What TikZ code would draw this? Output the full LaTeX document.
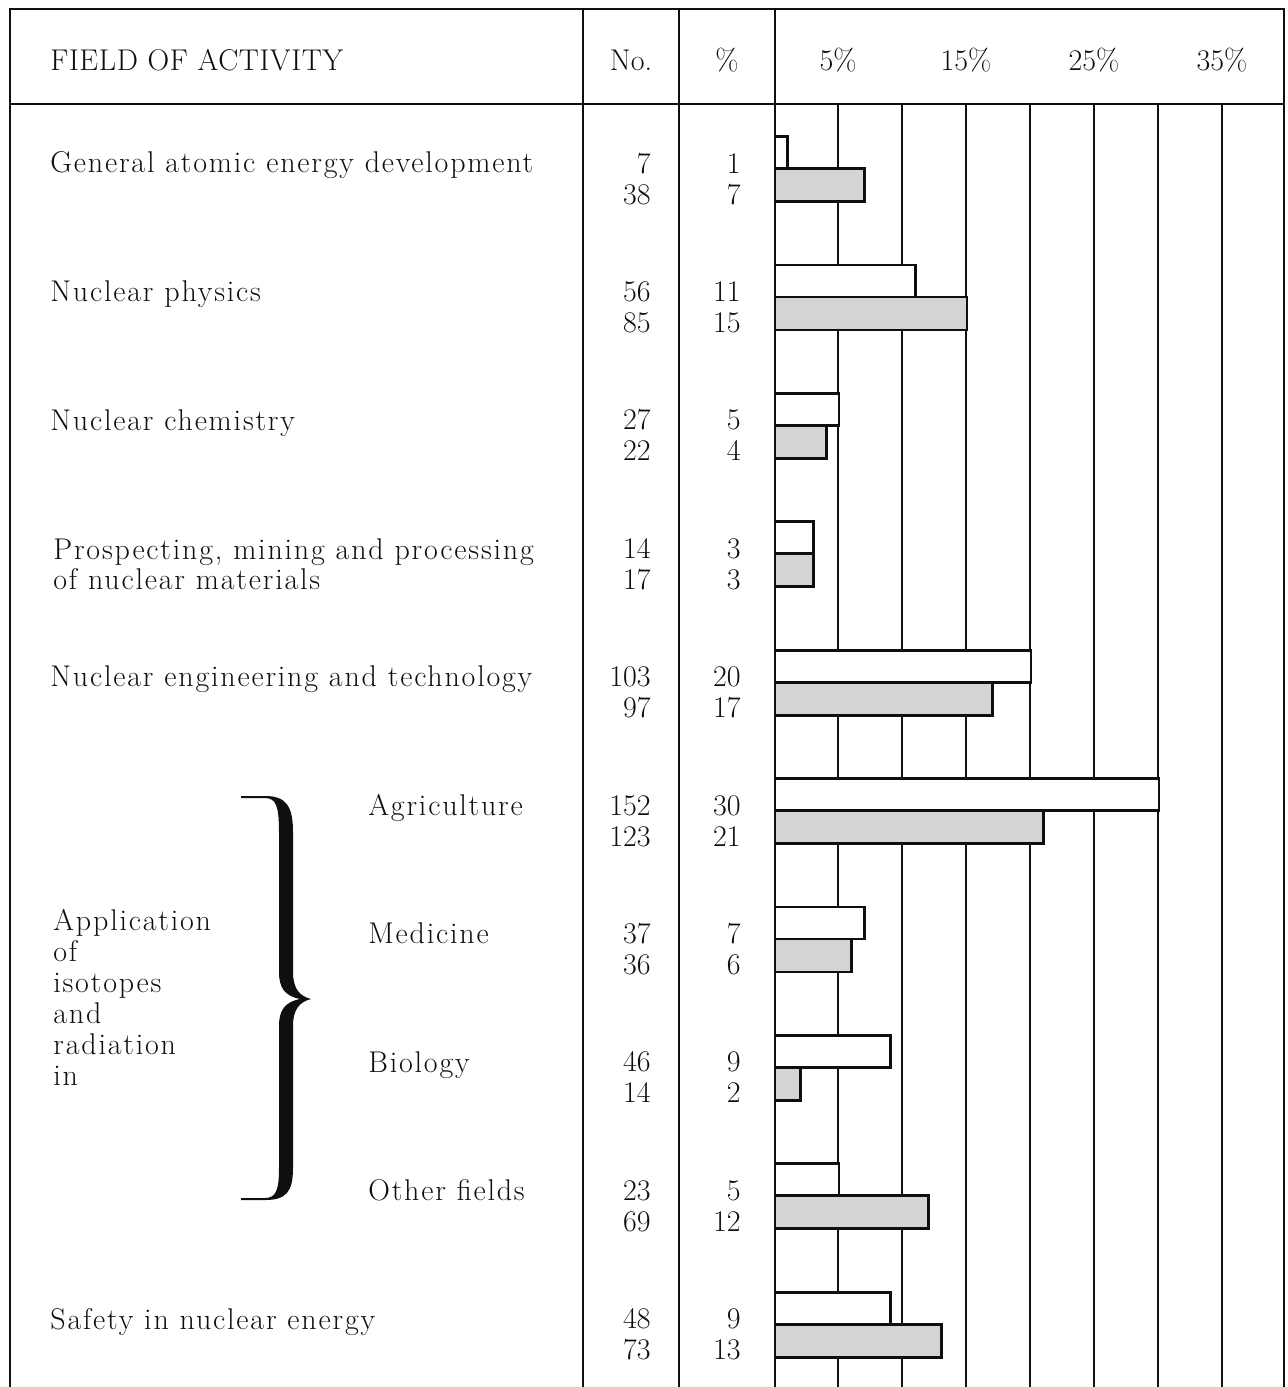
\documentclass[tikz,border=0pt]{standalone}
\usepackage{fontspec}
\setmainfont{Latin Modern Roman}[LetterSpace=6.0]
\newfontfamily\plainlm{Latin Modern Roman}
\newfontfamily\headlm{Latin Modern Roman}[LetterSpace=2.0]
\usepackage{xcolor}
\definecolor{tblink}{RGB}{15,15,15}
\definecolor{tblshade}{RGB}{212,212,212}
\usetikzlibrary{positioning}

\tikzset{
  rule/.style={line width=1pt, draw=tblink},
  barwhite/.style={line width=1.4pt, draw=tblink, fill=white},
  barshade/.style={line width=1.4pt, draw=tblink, fill=tblshade},
  txt/.style={font=\fontsize{15}{15.5}\selectfont, inner sep=0pt, text=tblink},
  num/.style={txt, font=\fontsize{15}{15.5}\selectfont\plainlm},
}

\begin{document}
\begin{tikzpicture}[x=0.5pt, y=-0.5pt]
  \useasboundingbox (0,0) rectangle (1288,1387);

  % Frame and column rules
  \draw[rule] (10,1387) -- (10,9) -- (1284,9) -- (1284,1387);
  \draw[rule] (10,104) -- (1284,104);
  \foreach \cx in {583,679,775}
    \draw[rule] (\cx,9) -- (\cx,1387);

  % Percentage grid, one line every 5%
  \foreach \k in {1,...,7}
    \draw[rule] (774+64*\k,104) -- (774+64*\k,1387);

  % Header
  \node[txt, font=\fontsize{15}{15.5}\selectfont\headlm, anchor=base west] (hfield) at (50,70) {FIELD OF ACTIVITY};
  \node[num, anchor=base] (hno) at (631,70) {No.};
  \node[num, anchor=base] (hpct) at (727,70) {\%};
  \foreach \p/\px in {5/838, 15/966, 25/1094, 35/1222}
    \node[num, anchor=base] (hp\p) at (\px,70) {\p\%};

  % Bars: upper one white, lower one shaded
  \foreach \i/\pa/\pb in {0/1/7, 1/11/15, 2/5/4, 3/3/3, 4/20/17,
                          5/30/21, 6/7/6, 7/9/2, 8/5/12, 9/9/13} {
    \pgfmathsetmacro{\yb}{168.5+128.4*\i}
    \draw[barwhite] (775,\yb-32) rectangle (775+12.8*\pa,\yb);
    \draw[barshade] (775,\yb) rectangle (775+12.8*\pb,\yb+33);
  }

  % Numbers and percentages
  \foreach \i/\na/\nb/\pa/\pb in {0/7/38/1/7, 1/56/85/11/15, 2/27/22/5/4,
                                  3/14/17/3/3, 4/103/97/20/17, 5/152/123/30/21,
                                  6/37/36/7/6, 7/46/14/9/2, 8/23/69/5/12,
                                  9/48/73/9/13} {
    \node[num, anchor=base east] (noa\i) at (651,173+128.4*\i) {\na};
    \node[num, anchor=base east] (nob\i) at (651,204+128.4*\i) {\nb};
    \node[num, anchor=base east] (pca\i) at (741,173+128.4*\i) {\pa};
    \node[num, anchor=base east] (pcb\i) at (741,204+128.4*\i) {\pb};
  }

  % Fields of activity
  \node[txt, anchor=base west] (fgen) at (50,172) {General atomic energy development};
  \node[txt, anchor=base west] (fphy) at (50,301) {Nuclear physics};
  \node[txt, anchor=base west] (fchem) at (50,430) {Nuclear chemistry};
  \node[txt, anchor=base west] (fpros) at (53,559) {Prospecting, mining and processing};
  \node[txt, anchor=base west] (fmat) at (53,589) {of nuclear materials};
  \node[txt, anchor=base west] (feng) at (50,686) {Nuclear engineering and technology};
  \node[txt, anchor=base west] (fsafe) at (50,1329) {Safety in nuclear energy};

  % Isotopes group
  \node[txt, anchor=base west, align=left] (fiso) at (53,1085)
       {Application\\of\\isotopes\\and\\radiation\\in};
  \node[txt, anchor=base west] (fagr) at (368,815) {Agriculture};
  \node[txt, anchor=base west] (fmed) at (368,943) {Medicine};
  \node[txt, anchor=base west] (fbio) at (368,1072) {Biology};
  \node[txt, anchor=base west] (foth) at (368,1200) {Other fields};

  % Brace
  \fill[tblink] (241,796) -- (265,796)
     .. controls (286,796) and (293,806) .. (293,832) -- (293,972)
     .. controls (293,988) and (299,996) .. (311,999)
     .. controls (299,1002) and (293,1010) .. (293,1026) -- (293,1168)
     .. controls (293,1192) and (286,1200) .. (265,1200) -- (241,1200)
     -- (241,1198) -- (265,1198)
     .. controls (276,1198) and (279,1190) .. (279,1168) -- (279,1026)
     .. controls (279,1010) and (285,1002) .. (300,999)
     .. controls (285,996) and (279,988) .. (279,972) -- (279,832)
     .. controls (279,806) and (276,798) .. (265,798) -- (241,798) -- cycle;
\end{tikzpicture}
\end{document}
